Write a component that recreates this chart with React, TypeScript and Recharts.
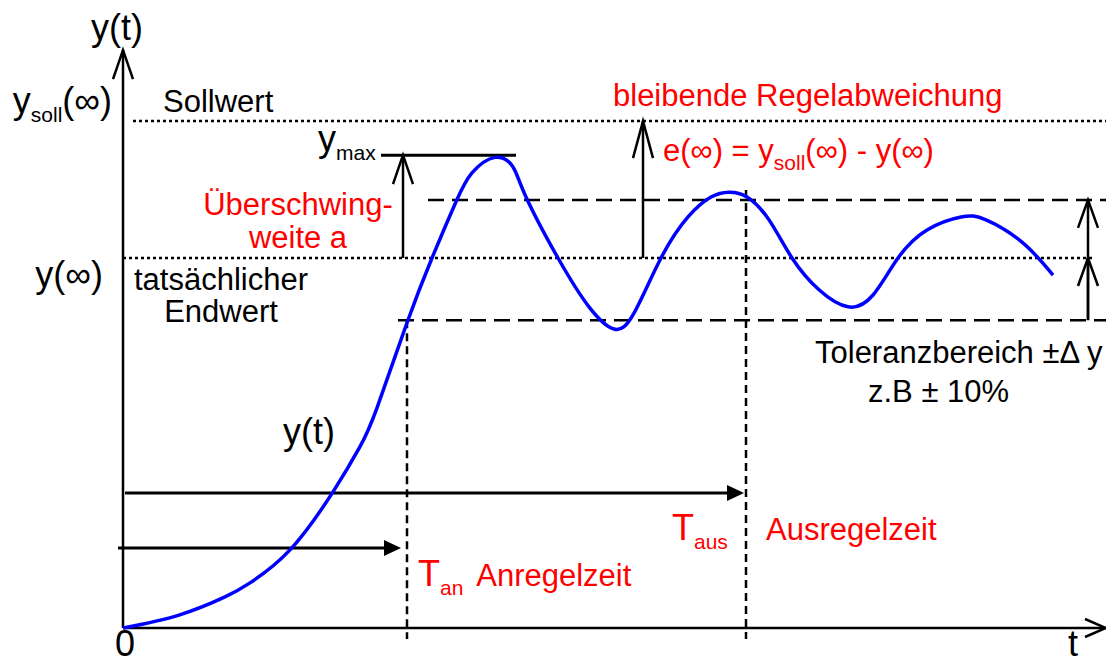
import { LineChart, Line, XAxis, YAxis, ReferenceLine, ReferenceDot } from 'recharts';

// step response y(t), time in arbitrary units, y normalised to y(inf) = 1
const TIME = [
  0, 0.56, 1.02, 1.27, 1.67, 2.1, 2.37, 2.54, 2.84, 3.09, 3.33, 3.49, 3.72, 3.9, 4.03, 4.35, 4.66, 4.91,
  5.11, 5.38, 5.65, 5.88, 6.06, 6.24, 6.46, 6.69, 6.96, 7.25, 7.5, 7.75, 8.04, 8.38, 8.63, 8.99, 9.3,
];
const RESPONSE = [
  0, 0.035, 0.084, 0.122, 0.211, 0.368, 0.49, 0.595, 0.825, 1.0, 1.152, 1.23, 1.272, 1.246, 1.165, 1.0, 0.868,
  0.808, 0.851, 1.0, 1.111, 1.165, 1.178, 1.165, 1.103, 1.0, 0.914, 0.868, 0.9, 1.0, 1.076, 1.111, 1.103,
  1.043, 0.954,
];

// characteristic levels / times
const Y_SOLL = 1.37;
const Y_END = 1.0;
const Y_MAX = 1.278;
const TOL_HI = 1.157;
const TOL_LO = 0.832;
const T_AN = 2.84;
const T_AUS = 6.23;
const T_MAX = 9.83;
const Y_TOP = 1.562;

const data = TIME.map((t, i) => ({ t, y: RESPONSE[i] }));

const FONT = '"Liberation Sans", Arial, sans-serif';
const RED = '#ff0000';
const BIG = 36; // symbols like y(t), T, 0
const WORD = 31;

type Head = 'open' | 'filled' | 'none';

// line with arrow head at the second segment point
const arrow = (head: Head, len = 28, half = 10, width = 2.5) => (p: any) => {
  const { x1, y1, x2, y2 } = p;
  const dx = x2 - x1;
  const dy = y2 - y1;
  const d = Math.hypot(dx, dy) || 1;
  const ux = dx / d;
  const uy = dy / d;
  const bx = x2 - ux * len;
  const by = y2 - uy * len;
  const ax = bx - uy * half;
  const ay = by + ux * half;
  const cx = bx + uy * half;
  const cy = by - ux * half;
  return (
    <g>
      <line
        x1={x1}
        y1={y1}
        x2={head === 'filled' ? bx : x2}
        y2={head === 'filled' ? by : y2}
        stroke="#000"
        strokeWidth={width}
      />
      {head === 'open' && (
        <polyline points={`${ax},${ay} ${x2},${y2} ${cx},${cy}`} fill="none" stroke="#000" strokeWidth={width} />
      )}
      {head === 'filled' && <polygon points={`${ax},${ay} ${x2},${y2} ${cx},${cy}`} fill="#000" />}
    </g>
  );
};

const txt =
  (content: React.ReactNode, color = '#000', anchor: 'start' | 'middle' | 'end' = 'start', size = WORD) =>
  (p: any) => (
    <text x={p.cx} y={p.cy} fill={color} fontSize={size} textAnchor={anchor} fontFamily={FONT}>
      {content}
    </text>
  );

// base text with a subscript, optionally followed by more base-line text
const withSub = (base: string, s: string, rest?: string, drop = 9) => (
  <>
    <tspan>{base}</tspan>
    <tspan dy={drop} fontSize={21}>
      {s}
    </tspan>
    {rest && <tspan dy={-drop}>{rest}</tspan>}
  </>
);

export default function App() {
  return (
    <div style={{ position: 'fixed', left: 0, top: 0, background: '#fff' }}>
      <LineChart width={1106} height={664} data={data} margin={{ top: 36, right: 0, bottom: 36, left: 123 }}>
        <XAxis dataKey="t" type="number" domain={[0, T_MAX]} hide />
        <YAxis type="number" domain={[0, 1.6]} hide />

        {/* axes */}
        <ReferenceLine segment={[{ x: 0, y: 0 }, { x: 0, y: Y_TOP }]} ifOverflow="visible" shape={arrow('open', 29, 10)} />
        <ReferenceLine segment={[{ x: 0, y: 0 }, { x: T_MAX, y: 0 }]} ifOverflow="visible" shape={arrow('open', 21, 9)} />

        {/* reference levels */}
        <ReferenceLine segment={[{ x: 0.1, y: Y_SOLL }, { x: T_MAX, y: Y_SOLL }]} ifOverflow="visible" stroke="#000" strokeWidth={2.5} strokeDasharray="3 3" />
        <ReferenceLine segment={[{ x: 0, y: Y_END }, { x: 9.7, y: Y_END }]} ifOverflow="visible" stroke="#000" strokeWidth={2.5} strokeDasharray="3 3" />
        <ReferenceLine segment={[{ x: 3.05, y: TOL_HI }, { x: T_MAX, y: TOL_HI }]} ifOverflow="visible" stroke="#000" strokeWidth={2.5} strokeDasharray="16 8" />
        <ReferenceLine segment={[{ x: 2.75, y: TOL_LO }, { x: T_MAX, y: TOL_LO }]} ifOverflow="visible" stroke="#000" strokeWidth={2.5} strokeDasharray="16 8" />
        <ReferenceLine segment={[{ x: 2.58, y: Y_MAX }, { x: 3.93, y: Y_MAX }]} ifOverflow="visible" stroke="#000" strokeWidth={3} />

        {/* time markers */}
        <ReferenceLine segment={[{ x: T_AN, y: TOL_LO }, { x: T_AN, y: -0.03 }]} ifOverflow="visible" stroke="#000" strokeWidth={2.5} strokeDasharray="8 5" />
        <ReferenceLine segment={[{ x: T_AUS, y: 1.184 }, { x: T_AUS, y: -0.03 }]} ifOverflow="visible" stroke="#000" strokeWidth={2.5} strokeDasharray="8 5" />

        {/* arrows */}
        <ReferenceLine segment={[{ x: 2.8, y: Y_END }, { x: 2.8, y: Y_MAX }]} ifOverflow="visible" shape={arrow('open', 29, 10)} />
        <ReferenceLine segment={[{ x: 5.2, y: Y_END }, { x: 5.2, y: Y_SOLL }]} ifOverflow="visible" shape={arrow('open', 37, 10)} />
        <ReferenceLine segment={[{ x: 9.65, y: TOL_LO }, { x: 9.65, y: TOL_HI }]} ifOverflow="visible" shape={arrow('open', 28, 10)} />
        <ReferenceLine segment={[{ x: 9.65, y: TOL_LO }, { x: 9.65, y: Y_END }]} ifOverflow="visible" shape={arrow('open', 28, 10)} />
        <ReferenceLine segment={[{ x: -0.05, y: 0.216 }, { x: 2.78, y: 0.216 }]} ifOverflow="visible" shape={arrow('filled', 17, 8, 3)} />
        <ReferenceLine segment={[{ x: 0.02, y: 0.365 }, { x: 6.21, y: 0.365 }]} ifOverflow="visible" shape={arrow('filled', 17, 8, 3)} />

        <Line dataKey="y" type="natural" stroke="#0000ff" strokeWidth={3.5} dot={false} isAnimationActive={false} />

        {/* labels */}
        <ReferenceDot x={-0.06} y={1.589} r={0} ifOverflow="visible" shape={txt('y(t)', '#000', 'middle', BIG)} />
        <ReferenceDot x={-0.11} y={1.392} r={0} ifOverflow="visible" shape={txt(withSub('y', 'soll', '(∞)'), '#000', 'end', BIG)} />
        <ReferenceDot x={0.4} y={1.395} r={0} ifOverflow="visible" shape={txt('Sollwert')} />
        <ReferenceDot x={1.95} y={1.289} r={0} ifOverflow="visible" shape={txt(withSub('y', 'max', undefined, 9), '#000', 'start', BIG)} />
        <ReferenceDot x={1.75} y={1.116} r={0} ifOverflow="visible" shape={txt('Überschwing-', RED, 'middle')} />
        <ReferenceDot x={1.75} y={1.027} r={0} ifOverflow="visible" shape={txt('weite a', RED, 'middle')} />
        <ReferenceDot x={-0.2} y={0.922} r={0} ifOverflow="visible" shape={txt('y(∞)', '#000', 'end', BIG)} />
        <ReferenceDot x={0.98} y={0.914} r={0} ifOverflow="visible" shape={txt('tatsächlicher', '#000', 'middle')} />
        <ReferenceDot x={0.98} y={0.827} r={0} ifOverflow="visible" shape={txt('Endwert', '#000', 'middle')} />
        <ReferenceDot x={4.9} y={1.411} r={0} ifOverflow="visible" shape={txt('bleibende Regelabweichung', RED)} />
        <ReferenceDot x={5.4} y={1.262} r={0} ifOverflow="visible" shape={txt(withSub('e(∞) = y', 'soll', '(∞) - y(∞)'), RED)} />
        <ReferenceDot x={6.92} y={0.716} r={0} ifOverflow="visible" shape={txt('Toleranzbereich ±Δ y')} />
        <ReferenceDot x={7.45} y={0.611} r={0} ifOverflow="visible" shape={txt('z.B ± 10%')} />
        <ReferenceDot x={1.6} y={0.497} r={0} ifOverflow="visible" shape={txt('y(t)', '#000', 'start', BIG)} />
        <ReferenceDot x={2.95} y={0.114} r={0} ifOverflow="visible" shape={txt(<>{withSub('T', 'an')}<tspan dy={-9} dx={6} fontSize={WORD}> Anregelzeit</tspan></>, RED, 'start', BIG)} />
        <ReferenceDot x={5.49} y={0.238} r={0} ifOverflow="visible" shape={txt(withSub('T', 'aus'), RED, 'start', BIG)} />
        <ReferenceDot x={6.43} y={0.238} r={0} ifOverflow="visible" shape={txt('Ausregelzeit', RED)} />
        <ReferenceDot x={0.02} y={-0.076} r={0} ifOverflow="visible" shape={txt('0', '#000', 'middle', BIG)} />
        <ReferenceDot x={9.5} y={-0.076} r={0} ifOverflow="visible" shape={txt('t', '#000', 'middle', BIG)} />
      </LineChart>
    </div>
  );
}
